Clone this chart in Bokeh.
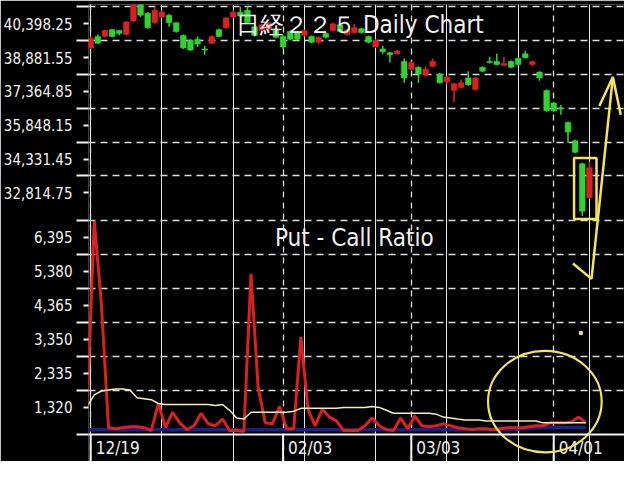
from bokeh.plotting import figure
from bokeh.models import Range1d, FixedTicker, ColumnDataSource, Span, Grid
from bokeh.core.properties import value
from bokeh.transform import dodge
from bokeh.embed import file_html
from bokeh.resources import INLINE

FONT = "Liberation Sans Narrow, DejaVu Sans Condensed, Liberation Sans"

# ---------------- data ----------------
# Nikkei 225 daily candles, trading-day index 0 = 12/19
c_open = [39315, 39835, 39835, 40138, 40095, 39922, 40528, 41395, 40875, 40442,
          40702, 40788, 40442, 39878, 39662, 39705, 39272, 39532, 40138, 40225,
          40702, 40918, 41005, 40268, 40095, 40138, 40138, 39835, 40052, 40008,
          39878, 39835, 39575, 39965, 40095, 40355, 39922, 40008, 40182, 39835,
          39358, 39272, 39098, 39055, 38708, 38362, 38448, 38102, 38492, 38145,
          37798, 37408, 37538, 37972, 37452, 38448, 38708, 38708, 38535, 38708,
          38838, 39055, 38578, 38232, 37408, 36845, 36628, 35978, 35155, 34118,
          32602]
c_high = [39835, 39922, 40138, 40182, 40138, 40528, 41600, 41482, 40918, 41178,
          41005, 40832, 40485, 39922, 39705, 39835, 39402, 39878, 40182, 40702,
          41005, 41178, 41178, 40312, 40398, 40485, 40182, 39878, 40095, 40052,
          40138, 39878, 39835, 40008, 40442, 40398, 40182, 40398, 40225, 39878,
          39705, 39402, 39142, 39228, 38838, 38708, 38492, 38492, 38838, 38188,
          38058, 37755, 37885, 38275, 38015, 38492, 38925, 39055, 38925, 38752,
          38882, 39185, 38752, 38275, 37452, 36888, 36758, 36022, 35198, 34162,
          34205]
c_low = [39272, 39488, 39792, 39792, 39878, 39878, 40485, 40702, 40182, 40398,
         40658, 40268, 40008, 39272, 39185, 39358, 39012, 39488, 39792, 40182,
         40658, 40702, 40398, 39835, 40052, 40095, 39748, 39272, 39662, 39662,
         39835, 39532, 39488, 39748, 40052, 40008, 39878, 39965, 39965, 39532,
         39315, 39055, 38665, 39012, 37755, 38318, 37755, 38058, 38448, 37712,
         37668, 36888, 37495, 37625, 37408, 38232, 38622, 38535, 38492, 38405,
         38535, 38838, 38492, 37842, 36455, 36455, 36325, 35068, 34595, 31778,
         32558]
c_close = [39748, 39532, 40095, 39835, 39965, 40485, 41525, 40788, 40225, 41005,
           40918, 40442, 40052, 39315, 39228, 39488, 39228, 39835, 39835, 40658,
           40918, 40745, 40442, 39878, 40355, 40442, 39792, 39358, 39705, 39705,
           40095, 39575, 39792, 39792, 40398, 40052, 40138, 40225, 40008, 39575,
           39662, 39142, 39012, 39185, 37972, 38665, 38145, 38362, 38708, 37755,
           38015, 37712, 37755, 37668, 37972, 38275, 38665, 38578, 38622, 38448,
           38578, 38882, 38708, 37972, 36498, 36498, 36585, 35545, 34638, 31995,
           33945]

date_idx = [0, 27, 45, 65]
date_labels = ["12/19", "02/03", "03/03", "04/01"]

price_ticks = [32814.75, 34331.45, 35848.15, 37364.85, 38881.55, 40398.25]
price_tick_labels = ["32,814.75", "34,331.45", "35,848.15", "37,364.85", "38,881.55", "40,398.25"]
pcr_ticks = [1320, 2335, 3350, 4365, 5380, 6395]
pcr_tick_labels = ["1,320", "2,335", "3,350", "4,365", "5,380", "6,395"]

# Put-Call ratio panel, day index -1 .. 69
pcr_days = list(range(-1, 70))
pcr_ratio = [1349, 6886, 4400, 715, 686, 715, 744, 744, 715, 629,
             1436, 715, 1176, 859, 657, 772, 1147, 830, 772, 974,
             629, 629, 600, 5300, 1926, 859, 830, 1349, 686, 686,
             3426, 1263, 772, 1263, 1032, 917, 629, 629, 629, 772,
             1003, 772, 657, 629, 1003, 686, 1061, 772, 744, 772,
             830, 772, 715, 686, 657, 686, 686, 657, 686, 715,
             715, 715, 744, 772, 772, 859, 859, 859, 888, 1032,
             859]
pcr_avg = [1349, 1695, 1811, 1840, 1868, 1868, 1840, 1609, 1580, 1551,
           1436, 1407, 1407, 1407, 1407, 1407, 1407, 1407, 1378, 1407,
           1234, 1003, 974, 1176, 1176, 1176, 1176, 1176, 1176, 1205,
           1292, 1292, 1292, 1292, 1292, 1292, 1320, 1320, 1320, 1320,
           1349, 1320, 1234, 1147, 1147, 1147, 1147, 1147, 1147, 1119,
           1032, 1003, 974, 946, 946, 946, 917, 917, 917, 917,
           917, 917, 917, 917, 859, 859, 859, 859, 859, 859,
           859]
pcr_base = [650, 650, 655, 650, 650, 645, 650, 650, 655, 650,
            650, 650, 645, 650, 650, 650, 655, 650, 650, 650,
            645, 650, 650, 650, 655, 650, 650, 650, 645, 650,
            650, 650, 655, 650, 650, 650, 645, 650, 650, 650,
            655, 650, 650, 650, 645, 650, 650, 650, 655, 650,
            650, 650, 645, 650, 650, 650, 655, 650, 650, 650,
            660, 680, 700, 715, 715, 715, 720, 720, 720, 720,
            720]

# hand-drawn annotations (index, value)
box_days = [69, 70]
arrow_x = [67.7, 70.3, 73.3]
arrow_y = [29652, 28958, 38015]
head_x = [71.4, 73.3, 74.4]
head_y = [36715, 38015, 36325]
ring_x, ring_y, ring_w, ring_h = 63.75, 1494, 15.95, 3028
dot_x, dot_y = [68.8], [26531]

# ---------------- scales ----------------
X_RANGE = (-0.31, 74.93)
PRICE_RANGE = (20768, 41265)
PCR_RANGE = (-294, 13345)
PCR_FLOOR = 513


def pcr_to_price(q):
    return PRICE_RANGE[0] + (q - PCR_RANGE[0]) * (PRICE_RANGE[1] - PRICE_RANGE[0]) / (PCR_RANGE[1] - PCR_RANGE[0])


price_step = price_ticks[1] - price_ticks[0]
pcr_step = pcr_ticks[1] - pcr_ticks[0]
price_grid = [t + price_step / 2 for t in price_ticks]
pcr_grid = [t + pcr_step / 2 for t in pcr_ticks]

major = list(price_ticks) + [round(pcr_to_price(q), 4) for q in pcr_ticks]
labels = price_tick_labels + pcr_tick_labels
grid_vals = price_grid + [round(pcr_to_price(g), 4) for g in pcr_grid]
minor = grid_vals + [round(pcr_to_price(PCR_FLOOR), 4)]

WHITE = "#f2f2f2"
GREEN = "#30d430"
RED = "#dc2020"
YELLOW = "#f3e45a"

p = figure(width=624, height=461, output_backend="svg", toolbar_location=None,
           x_range=Range1d(*X_RANGE), y_range=Range1d(*PRICE_RANGE),
           x_axis_location=None, min_border_left=85, min_border_right=0,
           min_border_top=4, min_border_bottom=0,
           background_fill_color="black", border_fill_color="black")
p.outline_line_color = None
p.extra_y_ranges = {"pcr": Range1d(*PCR_RANGE)}

ax = p.yaxis[0]
ax.ticker = FixedTicker(ticks=major, minor_ticks=minor)
ax.major_label_overrides = dict(zip(major, labels))
ax.axis_line_color = None
ax.major_tick_out = 5
ax.major_tick_in = 0
ax.major_tick_line_color = WHITE
ax.major_tick_line_width = 2
ax.minor_tick_out = 12
ax.minor_tick_in = 0
ax.minor_tick_line_color = WHITE
ax.minor_tick_line_width = 2
ax.major_label_standoff = 4
ax.major_label_text_color = WHITE
ax.major_label_text_font = FONT
ax.major_label_text_font_size = "15px"

p.ygrid.ticker = FixedTicker(ticks=grid_vals)
p.ygrid.grid_line_color = "#dcdcdc"
p.ygrid.grid_line_dash = "7 5"
p.ygrid.grid_line_width = 1.6

vgrid = Grid(dimension=0, ticker=FixedTicker(ticks=date_idx),
             grid_line_color="#dcdcdc", grid_line_dash="6 5", grid_line_width=1.3)
p.add_layout(vgrid)

# ---- candles ----
colors = [RED if c >= o else GREEN for o, c in zip(c_open, c_close)]
cs = ColumnDataSource(dict(idx=list(range(len(c_open))), open=c_open, high=c_high,
                           low=c_low, close=c_close, color=colors))
p.segment(x0="idx", y0="high", x1="idx", y1="low", line_color="color", line_width=1.5, source=cs)
p.vbar(x="idx", width=0.8, top="open", bottom="close", fill_color="color",
       line_color="color", line_width=0.5, source=cs)

# ---- put/call ratio panel ----
ps = ColumnDataSource(dict(day=pcr_days, ratio=pcr_ratio, avg=pcr_avg, base=pcr_base))
xd = dodge("day", 0.5, range=p.x_range)
p.line(x=xd, y="base", source=ps, y_range_name="pcr", line_color="#18208a", line_width=3.5)
p.line(x=xd, y="ratio", source=ps, y_range_name="pcr", line_color=RED, line_width=3)
p.line(x=xd, y="avg", source=ps, y_range_name="pcr", line_color="#f5f0b0", line_width=1.5)

# bottom axis line, date separators and labels
p.add_layout(Span(location=PCR_FLOOR, dimension="width", y_range_name="pcr",
                  line_color=WHITE, line_width=2))
p.segment(x0=date_idx, x1=date_idx, y0=[PCR_RANGE[0]] * len(date_idx),
          y1=[PCR_FLOOR] * len(date_idx), y_range_name="pcr",
          line_color=WHITE, line_width=2)
date_y = (PCR_RANGE[0] + PCR_FLOOR) / 2
p.text(x=date_idx, y=[date_y] * len(date_idx), text=date_labels, y_range_name="pcr",
       text_font=value(FONT), text_font_size=value("17px"), text_color=WHITE,
       text_align="left", text_baseline="middle", x_offset=5)

# titles
p.text(x=[20.4], y=[40355], text=["日経２２５ Daily Chart"], text_font=value(FONT),
       text_font_size=value("24px"), text_color=WHITE, text_align="left",
       text_baseline="middle")
p.text(x=[25.86], y=[6367], text=["Put - Call Ratio"], y_range_name="pcr",
       text_font=value(FONT), text_font_size=value("24px"), text_color=WHITE,
       text_align="left", text_baseline="middle")

# ---- yellow annotations ----
b_hi = max(c_high[d] for d in box_days)
b_lo = min(c_low[d] for d in box_days)
p.quad(left=[box_days[0] - 1.15], right=[box_days[-1] + 1.0], top=[b_hi + 170],
       bottom=[b_lo - 130], fill_color=None, line_color=YELLOW, line_width=2.5)
p.line(arrow_x, arrow_y, line_color=YELLOW, line_width=2.5)
p.line(head_x, head_y, line_color=YELLOW, line_width=2.5)
p.ellipse(x=[ring_x], y=[ring_y], width=[ring_w], height=[ring_h], y_range_name="pcr",
          fill_color=None, line_color=YELLOW, line_width=2.2)
p.scatter(dot_x, dot_y, marker="square", size=3, color=YELLOW)

open("out.html", "w").write(file_html(p, INLINE))
